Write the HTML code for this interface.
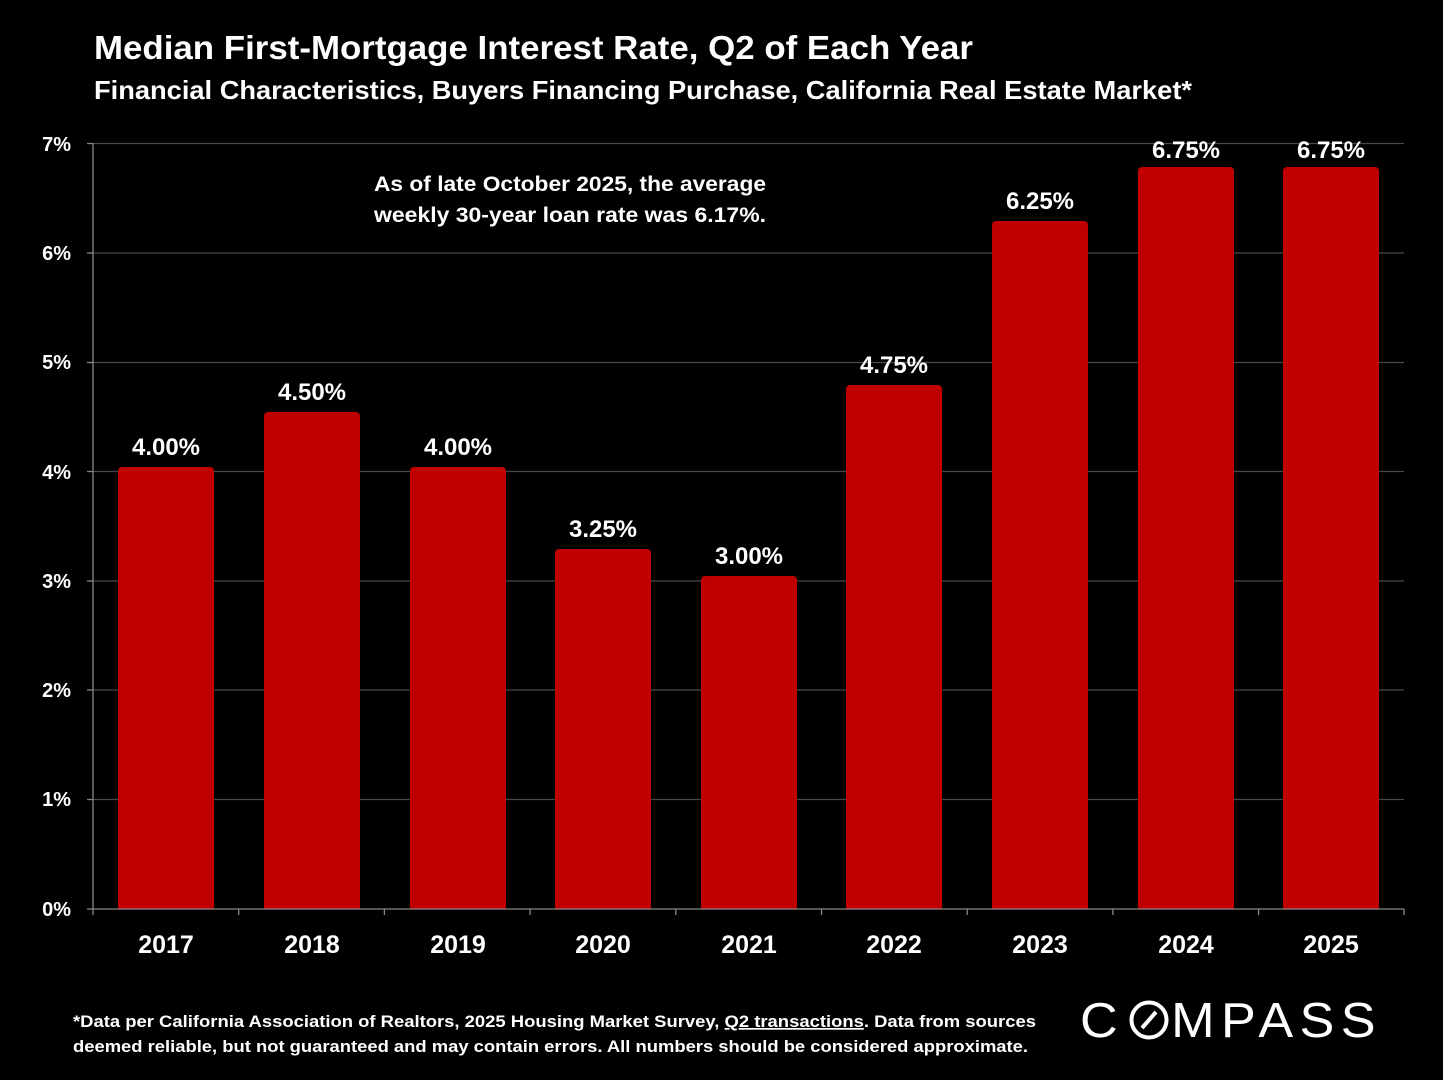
<!DOCTYPE html>
<html><head><meta charset="utf-8"><style>
html,body{margin:0;padding:0;background:#000;}
svg{display:block;}
text{font-family:"Liberation Sans",sans-serif;font-weight:bold;fill:#fff;}
</style></head><body>
<svg width="1443" height="1080" viewBox="0 0 1443 1080" xmlns="http://www.w3.org/2000/svg">
<rect width="1443" height="1080" fill="#000"/>
<text x="94" y="59" font-size="33" textLength="879" lengthAdjust="spacingAndGlyphs">Median First-Mortgage Interest Rate, Q2 of Each Year</text>
<text x="94" y="99" font-size="26" textLength="1098" lengthAdjust="spacingAndGlyphs">Financial Characteristics, Buyers Financing Purchase, California Real Estate Market*</text>
<g stroke="#4a4a4a" stroke-width="1.3">
<line x1="93" y1="143.5" x2="1404" y2="143.5"/>
<line x1="93" y1="253" x2="1404" y2="253"/>
<line x1="93" y1="362.5" x2="1404" y2="362.5"/>
<line x1="93" y1="471.5" x2="1404" y2="471.5"/>
<line x1="93" y1="581" x2="1404" y2="581"/>
<line x1="93" y1="690" x2="1404" y2="690"/>
<line x1="93" y1="799.5" x2="1404" y2="799.5"/>
</g>
<g fill="#c00000">
<rect x="118" y="467" width="96" height="446" rx="4"/>
<rect x="264" y="412" width="96" height="501" rx="4"/>
<rect x="410" y="467" width="96" height="446" rx="4"/>
<rect x="555" y="549" width="96" height="364" rx="4"/>
<rect x="701" y="576" width="96" height="337" rx="4"/>
<rect x="846" y="385" width="96" height="528" rx="4"/>
<rect x="992" y="221" width="96" height="692" rx="4"/>
<rect x="1138" y="167" width="96" height="746" rx="4"/>
<rect x="1283" y="167" width="96" height="746" rx="4"/>
</g>
<rect x="95" y="909.6" width="1320" height="10" fill="#000"/>
<g stroke="#888" stroke-width="1.3">
<line x1="93" y1="143" x2="93" y2="909"/>
<line x1="93" y1="909" x2="1404" y2="909"/>
<line x1="87" y1="143.5" x2="93" y2="143.5"/><line x1="87" y1="253" x2="93" y2="253"/><line x1="87" y1="362.5" x2="93" y2="362.5"/><line x1="87" y1="471.5" x2="93" y2="471.5"/><line x1="87" y1="581" x2="93" y2="581"/><line x1="87" y1="690" x2="93" y2="690"/><line x1="87" y1="799.5" x2="93" y2="799.5"/><line x1="87" y1="909" x2="93" y2="909"/>
<line x1="93" y1="909" x2="93" y2="915"/><line x1="238.7" y1="909" x2="238.7" y2="915"/><line x1="384.4" y1="909" x2="384.4" y2="915"/><line x1="530.1" y1="909" x2="530.1" y2="915"/><line x1="675.8" y1="909" x2="675.8" y2="915"/><line x1="821.5" y1="909" x2="821.5" y2="915"/><line x1="967.2" y1="909" x2="967.2" y2="915"/><line x1="1112.9" y1="909" x2="1112.9" y2="915"/><line x1="1258.6" y1="909" x2="1258.6" y2="915"/><line x1="1404" y1="909" x2="1404" y2="915"/>
</g>
<g font-size="20" text-anchor="end">
<text x="71" y="151">7%</text><text x="71" y="260">6%</text><text x="71" y="369">5%</text><text x="71" y="479">4%</text><text x="71" y="588">3%</text><text x="71" y="697">2%</text><text x="71" y="806">1%</text><text x="71" y="916">0%</text>
</g>
<g font-size="24" text-anchor="middle">
<text x="166" y="455">4.00%</text>
<text x="312" y="400">4.50%</text>
<text x="458" y="455">4.00%</text>
<text x="603" y="537">3.25%</text>
<text x="749" y="564">3.00%</text>
<text x="894" y="373">4.75%</text>
<text x="1040" y="209">6.25%</text>
<text x="1186" y="158">6.75%</text>
<text x="1331" y="158">6.75%</text>
</g>
<g font-size="25" text-anchor="middle">
<text x="166" y="953">2017</text><text x="312" y="953">2018</text><text x="458" y="953">2019</text><text x="603" y="953">2020</text><text x="749" y="953">2021</text><text x="894" y="953">2022</text><text x="1040" y="953">2023</text><text x="1186" y="953">2024</text><text x="1331" y="953">2025</text>
</g>
<text x="374" y="191" font-size="21" textLength="392" lengthAdjust="spacingAndGlyphs">As of late October 2025, the average</text>
<text x="374" y="222" font-size="21" textLength="392" lengthAdjust="spacingAndGlyphs">weekly 30-year loan rate was 6.17%.</text>
<text x="73" y="1027" font-size="17" textLength="963" lengthAdjust="spacingAndGlyphs">*Data per California Association of Realtors, 2025 Housing Market Survey, <tspan text-decoration="underline">Q2 transactions</tspan>. Data from sources</text>
<text x="73" y="1052" font-size="17" textLength="955" lengthAdjust="spacingAndGlyphs">deemed reliable, but not guaranteed and may contain errors. All numbers should be considered approximate.</text>
<text x="1080" y="1037" font-size="49" style="font-weight:normal;letter-spacing:6px" textLength="302" lengthAdjust="spacingAndGlyphs">C<tspan fill="#000">O</tspan>MPASS</text>
<circle cx="1149" cy="1020" r="17.5" fill="none" stroke="#fff" stroke-width="4"/>
<line x1="1142" y1="1028" x2="1156" y2="1012" stroke="#fff" stroke-width="4"/>
</svg>
</body></html>
